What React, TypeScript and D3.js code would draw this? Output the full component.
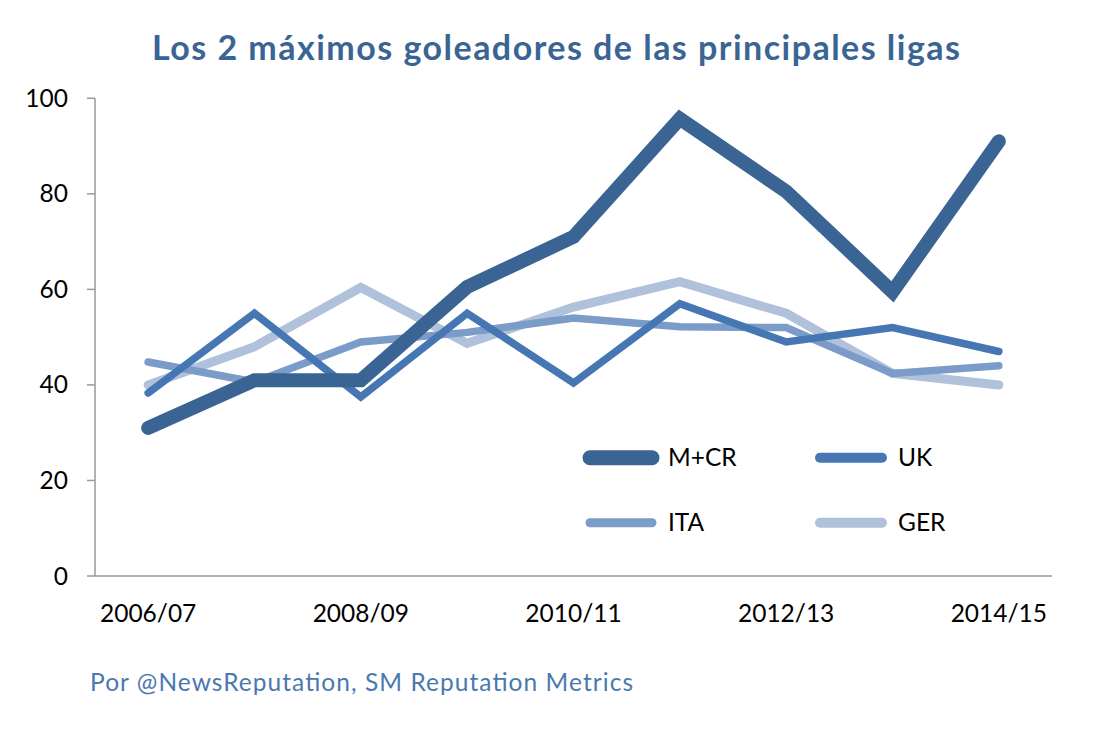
import React from "react";
import * as d3 from "d3";

const seasons = ["2006/07", "2007/08", "2008/09", "2009/10", "2010/11", "2011/12", "2012/13", "2013/14", "2014/15"];
const tickSeasons = ["2006/07", "2008/09", "2010/11", "2012/13", "2014/15"];
const mcr = [31, 41, 41, 60.5, 71, 95.7, 80.5, 59.5, 91];
const uk = [38.3, 55, 37.5, 55, 40.4, 57, 49, 52, 47];
const ita = [44.8, 40.6, 49, 51, 54, 52.2, 52, 42.4, 44];
const ger = [40, 48, 60.4, 48.7, 56.3, 61.6, 55, 42.4, 40];
const yTicks = [0, 20, 40, 60, 80, 100];

const series = [
  { name: "M+CR", values: mcr, color: "#3A6494", width: 14, lw: 15 },
  { name: "UK", values: uk, color: "#4677B2", width: 7.5, lw: 10 },
  { name: "ITA", values: ita, color: "#7B9BC8", width: 7.5, lw: 9 },
  { name: "GER", values: ger, color: "#B0C1DB", width: 9, lw: 10 },
];

const W = 1110, H = 731;
const left = 95, right = 1052, top = 98.3, bottom = 576;

export default function App() {
  const x = d3.scaleBand<string>().domain(seasons).range([left, right]).paddingInner(0).paddingOuter(0);
  const y = d3.scaleLinear().domain([0, 100]).range([bottom, top]);
  const cx = (s: string) => (x(s) as number) + x.bandwidth() / 2;
  const line = d3.line<number>().x((_, i) => cx(seasons[i])).y((v) => y(v));
  const font = "Lato, 'Open Sans', sans-serif";
  const legendPos = [
    { x1: 590, y: 457.7 },
    { x1: 820, y: 457.7 },
    { x1: 590, y: 522.7 },
    { x1: 820, y: 522.7 },
  ];
  return (
    <svg width={W} height={H} style={{ position: "absolute", left: 0, top: 0, background: "#fff" }} fontFamily={font}>
      <text x={152} y={59.5} fontSize={34} fontWeight={700} fill="#3A6494" textLength={808} lengthAdjust="spacing">
        Los 2 máximos goleadores de las principales ligas
      </text>
      <line x1={left} x2={left} y1={top} y2={bottom} stroke="#999" strokeWidth={1.5} />
      <line x1={left} x2={right} y1={bottom} y2={bottom} stroke="#999" strokeWidth={1.5} />
      {yTicks.map((t) => (
        <g key={t}>
          <line x1={87} x2={left} y1={y(t)} y2={y(t)} stroke="#999" strokeWidth={1.5} />
          <text x={68} y={y(t)} dy="0.35em" textAnchor="end" fontSize={24.5} fill="#000">{t}</text>
        </g>
      ))}
      {tickSeasons.map((s) => (
        <text key={s} x={cx(s)} y={622} textAnchor="middle" fontSize={24.5} fill="#000">{s}</text>
      ))}
      {[...series].reverse().map((s) => (
        <path key={s.name} d={line(s.values) as string} fill="none" stroke={s.color} strokeWidth={s.width} strokeLinecap="round" strokeLinejoin="miter" />
      ))}
      {series.map((s, i) => (
        <g key={s.name}>
          <line x1={legendPos[i].x1} x2={legendPos[i].x1 + 62} y1={legendPos[i].y} y2={legendPos[i].y} stroke={s.color} strokeWidth={s.lw} strokeLinecap="round" />
          <text x={legendPos[i].x1 + 78} y={legendPos[i].y} dy="0.35em" fontSize={24.5} fill="#000">{s.name}</text>
        </g>
      ))}
      <text x={90} y={691} fontSize={24.5} fill="#4A78B0" textLength={543} lengthAdjust="spacing">Por @NewsReputation, SM Reputation Metrics</text>
    </svg>
  );
}
